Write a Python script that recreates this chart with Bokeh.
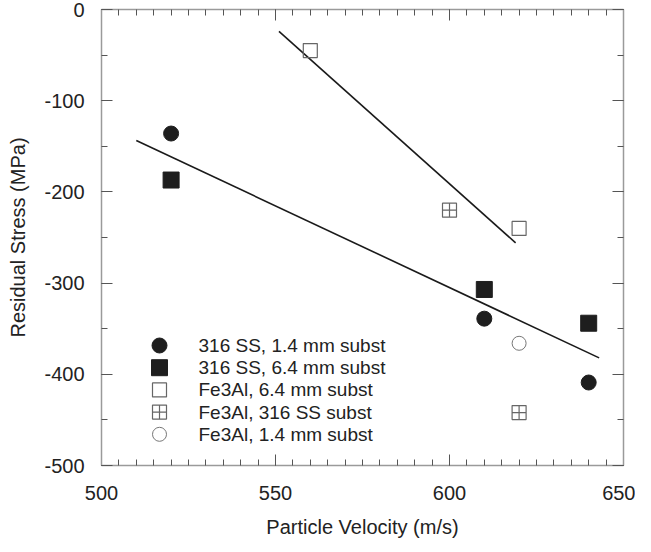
import numpy as np
from bokeh.plotting import figure
from bokeh.models import LinearAxis, FixedTicker, Range1d, CustomJSTickFormatter
from bokeh.core.properties import value
from bokeh.embed import file_html
from bokeh.resources import INLINE

# ---- data ----
ss14_x = [520, 610, 640]
ss14_y = [-136, -339, -409]
ss64_x = [520, 610, 640]
ss64_y = [-187, -307, -344]
fe64_x = [560, 620]
fe64_y = [-45, -240]
fess_x = [600, 620]
fess_y = [-220, -442]
fe14_x = [620]
fe14_y = [-366]

fit_ss_xrange = [510, 643]   # extent of the 316 SS regression line
fit_fe_xrange = [551, 619]   # extent of the Fe3Al regression line

x_major = [500, 550, 600, 650]
x_minor = list(range(500, 651, 5))
y_major = [-500, -400, -300, -200, -100, 0]
y_minor = list(range(-500, 1, 50))

labels = ["316 SS, 1.4 mm subst", "316 SS, 6.4 mm subst", "Fe3Al, 6.4 mm subst",
          "Fe3Al, 316 SS subst", "Fe3Al, 1.4 mm subst"]

FONT = "Liberation Sans"
AX = "#9a9a9a"
TK = "#555555"
TXT = "#222222"

FRAME_W = 522
FRAME_H = 456

p = figure(frame_width=FRAME_W, frame_height=FRAME_H, output_backend="svg", toolbar_location=None,
           x_range=Range1d(500, 650), y_range=Range1d(-500, 0),
           min_border_left=101, min_border_right=12, min_border_top=9, min_border_bottom=40)
p.grid.visible = False
p.outline_line_color = AX
p.background_fill_color = "white"
# pixel-space ranges for the hand-placed legend
p.extra_x_ranges = {"px": Range1d(0, FRAME_W)}
p.extra_y_ranges = {"py": Range1d(0, FRAME_H)}

def style_axis(ax, show_labels):
    ax.axis_line_color = AX
    ax.axis_line_width = 1.5
    ax.major_tick_line_color = TK
    ax.minor_tick_line_color = TK
    ax.major_tick_in = 11
    ax.major_tick_out = 0
    ax.minor_tick_in = 6
    ax.minor_tick_out = 0
    if show_labels:
        ax.formatter = CustomJSTickFormatter(code="return tick.toString()")
        ax.major_label_text_font = FONT
        ax.major_label_text_font_size = "20px"
        ax.major_label_text_color = TXT
        ax.axis_label_text_font = FONT
        ax.axis_label_text_font_size = "20px"
        ax.axis_label_text_font_style = "normal"
        ax.axis_label_text_color = TXT
    else:
        ax.formatter = CustomJSTickFormatter(code="return ''")
        ax.major_label_standoff = 0
        ax.axis_label = None

p.xaxis.ticker = FixedTicker(ticks=x_major, minor_ticks=x_minor)
p.yaxis.ticker = FixedTicker(ticks=y_major, minor_ticks=y_minor)
p.xaxis.axis_label = "Particle Velocity (m/s)"
p.yaxis.axis_label = "Residual Stress (MPa)"
style_axis(p.xaxis[0], True)
style_axis(p.yaxis[0], True)
p.xaxis.major_label_standoff = 20
p.xaxis.axis_label_standoff = 13
p.yaxis.major_label_standoff = 17
p.yaxis.axis_label_standoff = 12

top = LinearAxis(ticker=FixedTicker(ticks=x_major, minor_ticks=x_minor))
right = LinearAxis(ticker=FixedTicker(ticks=y_major, minor_ticks=y_minor))
style_axis(top, False)
style_axis(right, False)
p.add_layout(top, "above")
p.add_layout(right, "right")

# regression lines computed from the data
sx = np.array(ss14_x + ss64_x, dtype=float)
sy = np.array(ss14_y + ss64_y, dtype=float)
m1, b1 = np.polyfit(sx, sy, 1)
lx1 = np.array(fit_ss_xrange, dtype=float)
p.line(lx1, m1 * lx1 + b1, line_color="#1a1a1a", line_width=1.6)

fx = np.array(fe64_x + fess_x[:1], dtype=float)
fy = np.array(fe64_y + fess_y[:1], dtype=float)
m2, b2 = np.polyfit(fx, fy, 1)
lx2 = np.array(fit_fe_xrange, dtype=float)
p.line(lx2, m2 * lx2 + b2, line_color="#1a1a1a", line_width=1.6)

styles = [
    dict(marker="circle", size=15, fill_color="#1e1e1e", line_color="#1e1e1e", line_width=1),
    dict(marker="square", size=16, fill_color="#1e1e1e", line_color="#1e1e1e", line_width=1),
    dict(marker="square", size=14, fill_color=None, line_color="#666666", line_width=1.2),
    dict(marker="square_cross", size=14, fill_color=None, line_color="#666666", line_width=1.2),
    dict(marker="circle", size=14, fill_color=None, line_color="#777777", line_width=1.0),
]
series = [(ss14_x, ss14_y), (ss64_x, ss64_y), (fe64_x, fe64_y), (fess_x, fess_y), (fe14_x, fe14_y)]
for (xs, ys), st in zip(series, styles):
    p.scatter(xs, ys, **st)

# legend (placed in frame-pixel coordinates)
leg_glyph_x = 58
leg_text_x = 97
leg_top_y = 120
leg_step = 22.2
leg_y = [leg_top_y - i * leg_step for i in range(len(labels))]
for yy, st in zip(leg_y, styles):
    p.scatter([leg_glyph_x], [yy], x_range_name="px", y_range_name="py", **st)
p.text(x=[leg_text_x] * len(labels), y=leg_y,
       text=labels, x_range_name="px", y_range_name="py",
       text_font=value(FONT), text_font_size="19px", text_color=TXT,
       text_align="left", text_baseline="middle")

open("out.html", "w").write(file_html(p, INLINE))
